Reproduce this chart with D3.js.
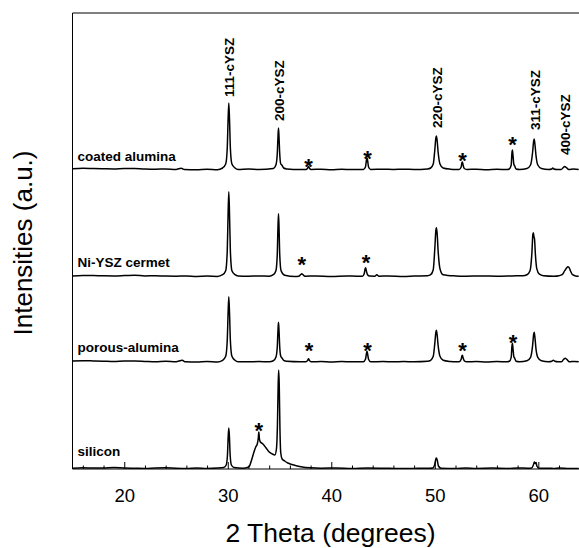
<!DOCTYPE html>
<html>
<head>
<meta charset="utf-8">
<script src="https://cdn.jsdelivr.net/npm/d3@7"></script>
<style>
  html, body { margin: 0; padding: 0; background: #fff; }
  svg { display: block; }
</style>
</head>
<body>
<svg id="chart" width="579" height="548"></svg>
<script>
// ---------- data (2θ in degrees, intensity in arbitrary units) ----------
const xMajorTicks = [20, 30, 40, 50, 60];
const xMinorTicks = [16, 18, 22, 24, 26, 28, 32, 34, 36, 38, 42, 44, 46, 48, 52, 54, 56, 58, 62];

const seriesNames = ["coated alumina", "Ni-YSZ cermet", "porous-alumina", "silicon"];
const seriesOffsets = [299, 192.3, 106.7, 0];
const seriesLabelLevels = [308.3, 202.3, 117.3, 13];

const coatedAlumina = [
  [15,1.2],[16,1.8],[17,1.5],[18,1.2],[19,1.0],[20,1.6],[21,1.4],[22,1.0],[23,0.8],[24,1.1],[25,0.6],[25.5,1.8],[25.8,0.5],[27,0.3],[28,0.7],[29,0.3],
  [29.5,2],[29.8,6],[29.95,22],[30.03,50],[30.1,67],[30.17,50],[30.25,22],[30.4,6],[30.7,2],
  [31,0.5],[32,0.9],[33,0.5],
  [34.4,1.5],[34.65,5],[34.78,16],[34.85,33],[34.9,42],[34.95,33],[35.02,16],[35.12,6],[35.22,5],[35.4,2],[35.7,1],
  [37,0.5],
  [37.55,0.5],[37.72,2],[37.8,3.5],[37.88,2],[38.05,0.5],
  [39,0.8],[40,0.3],[41,0.7],[42,0.5],
  [43.1,0.5],[43.3,3],[43.4,10],[43.45,12],[43.5,10],[43.6,3],[43.8,0.5],
  [45,0.8],[46,0.5],[47,0.8],[48,0.5],[49.3,1],
  [49.6,2],[49.85,6],[50.0,20],[50.1,32],[50.15,34],[50.22,30],[50.32,18],[50.5,6],[50.8,2],
  [51.5,0.8],[52,0.5],
  [52.35,0.5],[52.55,3],[52.62,7.5],[52.67,8],[52.73,5],[52.85,1.5],[53.1,0.5],
  [54,0.8],[55,0.3],[56,0.7],[57,0.5],
  [57.2,1],[57.38,5],[57.45,17],[57.5,20],[57.56,14],[57.63,6],[57.72,4],[57.85,1],[58.2,0.5],
  [58.9,1.5],[59.25,5],[59.45,18],[59.55,29],[59.6,31],[59.67,26],[59.78,14],[59.95,5],[60.3,1.5],
  [61,0.5],[61.3,1],[61.4,2],[61.5,1],[61.8,0.5],
  [62.2,0.5],[62.42,2.5],[62.55,3.5],[62.7,2.5],[62.95,0.5],[63.4,0.9],[63.9,0.5]
];

const niYszCermet = [
  [15,0.8],[16,1.3],[17,1.2],[18,0.9],[19,0.8],[20,1.1],[21,1.5],[22,0.8],[23,1.0],[24,0.6],[25,0.5],[26,0.8],[27,0.3],[28,0.6],[29,0.3],
  [29.5,2],[29.8,6],[29.95,26],[30.03,62],[30.1,85],[30.17,62],[30.25,26],[30.4,6],[30.7,2],
  [31,0.8],[32,0.5],[33,0.8],[34,0.5],
  [34.4,2],[34.65,6],[34.78,22],[34.85,50],[34.9,63],[34.95,50],[35.02,22],[35.15,6],[35.5,1.5],
  [36.5,0.3],
  [36.85,0.5],[37.05,2.2],[37.15,3],[37.25,2.2],[37.45,0.5],
  [38.5,0.8],[40,0.3],[41.5,0.7],[42.5,0.5],
  [43.0,0.5],[43.18,3],[43.27,8],[43.32,9],[43.38,6],[43.5,2],[43.7,0.6],
  [44.2,0.5],[44.4,2],[44.6,0.5],
  [45.5,0.8],[47,0.3],[48,0.7],[49.3,1],
  [49.6,2],[49.85,7],[50.0,28],[50.1,46],[50.15,49],[50.22,44],[50.32,26],[50.5,8],[50.8,2],
  [52,0.8],[53,0.5],[54.5,0.8],[56,0.5],[57.5,0.8],[58.5,1],
  [58.9,2],[59.2,6],[59.38,24],[59.47,42],[59.52,44],[59.58,40],[59.63,38],[59.72,22],[59.85,8],[60.1,2.5],[60.5,1],
  [61.5,0.5],[62.0,1],
  [62.3,2],[62.55,6],[62.75,9],[62.85,10],[62.95,9.5],[63.1,6],[63.3,2],[63.6,0.8],[63.9,0.5]
];

const porousAlumina = [
  [15,1.2],[16,1.6],[17,1.4],[18,1.1],[19,0.8],[20,1.3],[21,1.2],[22,0.9],[23,0.6],[24,1.0],[25,0.6],[25.6,2],[25.9,0.5],[27,0.3],[28,0.7],[29,0.3],
  [29.5,2],[29.8,6],[29.95,22],[30.03,49],[30.1,65.5],[30.17,49],[30.25,22],[30.4,6],[30.7,2],
  [31,0.6],[32,0.5],[33,0.8],[34,0.5],
  [34.4,1.5],[34.65,5],[34.78,15],[34.85,32],[34.9,40],[34.95,32],[35.02,15],[35.12,6],[35.22,4.5],[35.4,2],[35.7,1],
  [37,0.5],
  [37.55,0.5],[37.72,2],[37.8,3.5],[37.88,2],[38.05,0.5],
  [39,0.8],[40,0.3],[41,0.7],[42,0.5],
  [43.1,0.5],[43.3,3],[43.4,9],[43.45,11],[43.5,9],[43.6,3],[43.8,0.5],
  [45,0.8],[46,0.5],[47,0.7],[48,0.5],[49.3,1],
  [49.6,2],[49.85,6],[50.0,19],[50.1,30],[50.15,32],[50.22,28],[50.32,17],[50.5,6],[50.8,2],
  [51.5,0.8],[52,0.5],
  [52.35,0.5],[52.55,3],[52.62,6.5],[52.67,7],[52.73,4.5],[52.85,1.5],[53.1,0.5],
  [54,0.8],[55,0.3],[56,0.7],[57,0.5],
  [57.2,1],[57.38,5],[57.45,16],[57.5,19],[57.56,13],[57.63,6],[57.72,4],[57.85,1],[58.2,0.5],
  [58.9,1.5],[59.25,5],[59.45,17],[59.55,28],[59.6,30],[59.67,25],[59.78,13],[59.95,5],[60.3,1.5],
  [61,0.5],[61.3,1],[61.45,2],[61.6,1],[61.9,0.5],
  [62.25,0.5],[62.45,3],[62.6,4],[62.75,3],[63.0,0.5],[63.5,0.9],[63.9,0.5]
];

const silicon = [
  [15,0.8],[16,1.3],[17,0.9],[18,1],[19,1.4],[20,1],[21,0.8],[22,0.6],[23,1.0],[24,1.2],[25,0.8],[26,0.6],[27,1.0],[28,0.6],[29,0.9],
  [29.6,1.5],[29.85,4],[29.97,14],[30.04,32],[30.1,41],[30.16,32],[30.23,14],[30.35,4],[30.6,1.5],
  [31.5,0.8],[31.9,1.5],[32.1,3],[32.3,9],[32.5,16],[32.7,22],[32.85,25],[32.95,31],[33.0,37],[33.06,30],[33.15,27],
  [33.4,25],[33.7,21],[34.0,17],[34.3,15],[34.55,14],
  [34.7,20],[34.8,45],[34.87,85],[34.92,99],[34.97,85],[35.04,40],[35.12,16],[35.25,10],[35.5,8],[35.8,6],
  [36.2,4.5],[36.7,3],[37.2,2],[38,1.2],[39,0.8],
  [40.5,1.0],[42,0.6],[43.5,1.0],[45,0.8],[46.5,0.5],[48,0.6],[49.5,0.8],
  [49.8,1],[49.98,4],[50.1,10],[50.17,11],[50.25,8],[50.35,3],[50.6,0.8],
  [52,0.6],[53,1.0],[54,0.6],[55.5,0.9],[57,0.6],[58,1.0],[59,0.8],
  [59.35,1],[59.52,4],[59.62,7],[59.7,5.5],[59.78,6.5],[59.86,3],[60.05,0.8],
  [61,0.8],[61.5,0.6],[62,1],[63,0.6],[63.9,0.6]
];

const seriesData = [coatedAlumina, niYszCermet, porousAlumina, silicon];

// peak annotations (on the top pattern)
const peakLabels = ["111-cYSZ", "200-cYSZ", "220-cYSZ", "311-cYSZ", "400-cYSZ"];
const peakLabelPos = [30.15, 34.95, 50.25, 59.65, 62.6];
const peakLabelLevel = [372, 348, 341, 339, 314];

// asterisk markers [2θ, level]
const starMarks = [
  [37.79, 307], [43.5, 315], [52.69, 313], [57.5, 329],
  [37.15, 209], [43.35, 211],
  [37.85, 122.3], [43.5, 122.3], [52.69, 122.3], [57.55, 131],
  [33.0, 43]
];

// ---------- drawing ----------
const svg = d3.select("#chart");
const mLeft = 72.5, mRight = 579, mTop = 13, mBottom = 469;

const x = d3.scaleLinear().domain([15, 63.93]).range([mLeft, mRight]);
const y = d3.scaleLinear().domain([0, 456]).range([mBottom, mTop]);

const FONT = "'Liberation Sans', Arial, Helvetica, sans-serif";

// clip
svg.append("defs").append("clipPath").attr("id", "plotClip")
  .append("rect").attr("x", mLeft).attr("y", 0).attr("width", mRight - mLeft).attr("height", mBottom);

// patterns
const line = d3.line()
  .x(d => x(d[0]))
  .y(d => y(d[1]))
  .curve(d3.curveMonotoneX);

const g = svg.append("g").attr("clip-path", "url(#plotClip)");
seriesData.forEach((s, i) => {
  g.append("path")
    .datum(s.map(d => [d[0], d[1] + seriesOffsets[i]]))
    .attr("fill", "none")
    .attr("stroke", "#000")
    .attr("stroke-width", 1.5)
    .attr("stroke-linejoin", "round")
    .attr("d", line);
});

// axes
const axMinor = d3.axisBottom(x).tickValues(xMinorTicks).tickSizeInner(-3.5).tickSizeOuter(0).tickFormat("");
const axMajor = d3.axisBottom(x).tickValues(xMajorTicks).tickSizeInner(-7).tickSizeOuter(0).tickFormat(d3.format("d"));

const gMinor = svg.append("g").attr("transform", `translate(0,${mBottom})`).call(axMinor);
gMinor.select(".domain").remove();
gMinor.selectAll("line").attr("stroke", "#000").attr("stroke-width", 1);

const gMajor = svg.append("g").attr("transform", `translate(0,${mBottom})`).call(axMajor);
gMajor.select(".domain").remove();
gMajor.selectAll("line").attr("stroke", "#000").attr("stroke-width", 1);
gMajor.selectAll("text")
  .attr("y", 33).attr("dy", 0)
  .attr("font-family", FONT).attr("font-size", 18.5).attr("fill", "#000");

// frame (left, top, bottom)
svg.append("path")
  .attr("d", `M${mRight},${mTop}H${mLeft}V${mBottom}H${mRight}`)
  .attr("fill", "none").attr("stroke", "#000").attr("stroke-width", 1);

// axis titles
svg.append("text")
  .attr("x", 330.5).attr("y", 541.5)
  .attr("text-anchor", "middle")
  .attr("font-family", FONT).attr("font-size", 26.5).attr("fill", "#000")
  .text("2 Theta (degrees)");

svg.append("text")
  .attr("transform", "translate(32,243) rotate(-90)")
  .attr("text-anchor", "middle")
  .attr("font-family", FONT).attr("font-size", 26).attr("fill", "#000")
  .text("Intensities (a.u.)");

// series labels
seriesNames.forEach((n, i) => {
  svg.append("text")
    .attr("x", 77.5).attr("y", y(seriesLabelLevels[i]))
    .attr("font-family", FONT).attr("font-size", 13.5).attr("font-weight", "bold").attr("fill", "#000")
    .text(n);
});

// peak labels
peakLabels.forEach((t, i) => {
  svg.append("text")
    .attr("transform", `translate(${x(peakLabelPos[i])},${y(peakLabelLevel[i])}) rotate(-90)`)
    .attr("dy", "0.36em")
    .attr("font-family", FONT).attr("font-size", 13.5).attr("font-weight", "bold").attr("fill", "#000")
    .text(t);
});

// asterisks
starMarks.forEach(d => {
  svg.append("text")
    .attr("x", x(d[0])).attr("y", y(d[1]) + 11.5)
    .attr("text-anchor", "middle")
    .attr("font-family", FONT).attr("font-size", 22).attr("font-weight", "bold").attr("fill", "#000")
    .text("*");
});
</script>
</body>
</html>
